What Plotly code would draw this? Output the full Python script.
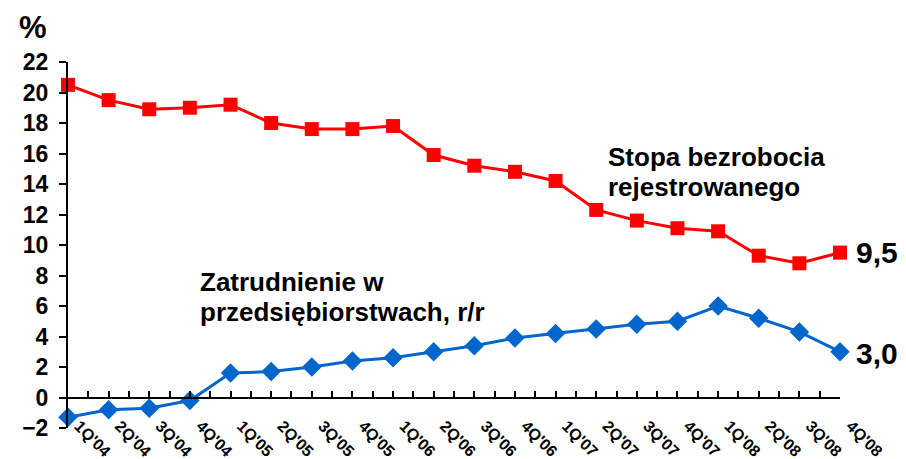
import plotly.graph_objects as go

quarters = ["1Q'04", "2Q'04", "3Q'04", "4Q'04",
            "1Q'05", "2Q'05", "3Q'05", "4Q'05",
            "1Q'06", "2Q'06", "3Q'06", "4Q'06",
            "1Q'07", "2Q'07", "3Q'07", "4Q'07",
            "1Q'08", "2Q'08", "3Q'08", "4Q'08"]

# stopa bezrobocia rejestrowanego, %
unemployment = [20.5, 19.5, 18.9, 19.0, 19.2, 18.0, 17.6, 17.6, 17.8, 15.9,
                15.2, 14.8, 14.2, 12.3, 11.6, 11.1, 10.9, 9.3, 8.8, 9.5]
# zatrudnienie w przedsiebiorstwach, r/r %
employment = [-1.3, -0.8, -0.7, -0.2, 1.6, 1.7, 2.0, 2.4, 2.6, 3.0,
              3.4, 3.9, 4.2, 4.5, 4.8, 5.0, 6.0, 5.2, 4.3, 3.0]

y_ticks = list(range(-2, 23, 2))

FONT = "Arial, Liberation Sans, sans-serif"
x = list(range(len(quarters)))

# page body has an 8px margin, so the figure is 8px smaller than the window
W, H = 898, 451
L, R, T, B = 60, 66, 54, 31

fig = go.Figure()
fig.add_trace(go.Scatter(x=x, y=unemployment, mode='lines+markers',
                         line=dict(color='#FF0000', width=3),
                         marker=dict(symbol='square', size=14, color='#FF0000'),
                         cliponaxis=False, name='Stopa bezrobocia'))
fig.add_trace(go.Scatter(x=x, y=employment, mode='lines+markers',
                         line=dict(color='#0066CC', width=3),
                         marker=dict(symbol='diamond', size=15, color='#0066CC'),
                         cliponaxis=False, name='Zatrudnienie'))

# ticks every half quarter, labels only on quarters
tickvals = [i * 0.5 for i in range(2 * len(quarters) - 1)]
ticktext = [quarters[int(v)] if v == int(v) else "" for v in tickvals]

fig.update_xaxes(range=[0, len(quarters) - 1], tickmode='array',
                 tickvals=tickvals, ticktext=ticktext, tickangle=45,
                 ticks='inside', ticklen=6, tickwidth=1.5, tickcolor='black',
                 showline=True, linecolor='black', linewidth=2,
                 showgrid=False, zeroline=False,
                 ticklabelstandoff=12, ticklabelshift=11,
                 anchor='free', position=2 / 24,
                 tickfont=dict(family=FONT, size=16, color='black', weight='bold'))
fig.update_yaxes(range=[-2, 22], tickvals=y_ticks,
                 ticks='outside', ticklen=7, tickwidth=1.5, tickcolor='black',
                 showline=True, linecolor='black', linewidth=2,
                 showgrid=False, zeroline=False, ticklabelstandoff=6,
                 tickfont=dict(family=FONT, size=23, color='black', weight='bold'))

# two-line labels drawn line by line for tighter spacing
ann_font = dict(family=FONT, size=26, color='black', weight='bold')
labels = [(13.25, 15.8, ["Stopa bezrobocia", "rejestrowanego"]),
          (3.2, 7.6, ["Zatrudnienie w", "przedsiębiorstwach, r/r"])]
for lx, ly, lines in labels:
    for k, line in enumerate(lines):
        fig.add_annotation(x=lx, y=ly, xref='x', yref='y', xanchor='left',
                           yanchor='middle', yshift=-30 * k,
                           showarrow=False, font=ann_font, text=line)

val_font = dict(family=FONT, size=30, color='black', weight='bold')
fig.add_annotation(x=x[-1], y=unemployment[-1], xref='x', yref='y', xanchor='left',
                   xshift=14, showarrow=False, font=val_font,
                   text=f"{unemployment[-1]:.1f}".replace('.', ','))
fig.add_annotation(x=x[-1], y=employment[-1], xref='x', yref='y', xanchor='left',
                   xshift=14, yshift=-2, showarrow=False, font=val_font,
                   text=f"{employment[-1]:.1f}".replace('.', ','))
fig.add_annotation(x=(25 - L) / (W - L - R), y=1 + (T - 19) / (H - T - B),
                   xref='paper', yref='paper', xanchor='center', yanchor='middle',
                   showarrow=False, text="%",
                   font=dict(family=FONT, size=31, color='black', weight='bold'))

fig.update_layout(
    width=W, height=H,
    margin=dict(l=L, r=R, t=T, b=B, autoexpand=False),
    paper_bgcolor='white', plot_bgcolor='white',
    showlegend=False)

fig.write_html("out.html")
